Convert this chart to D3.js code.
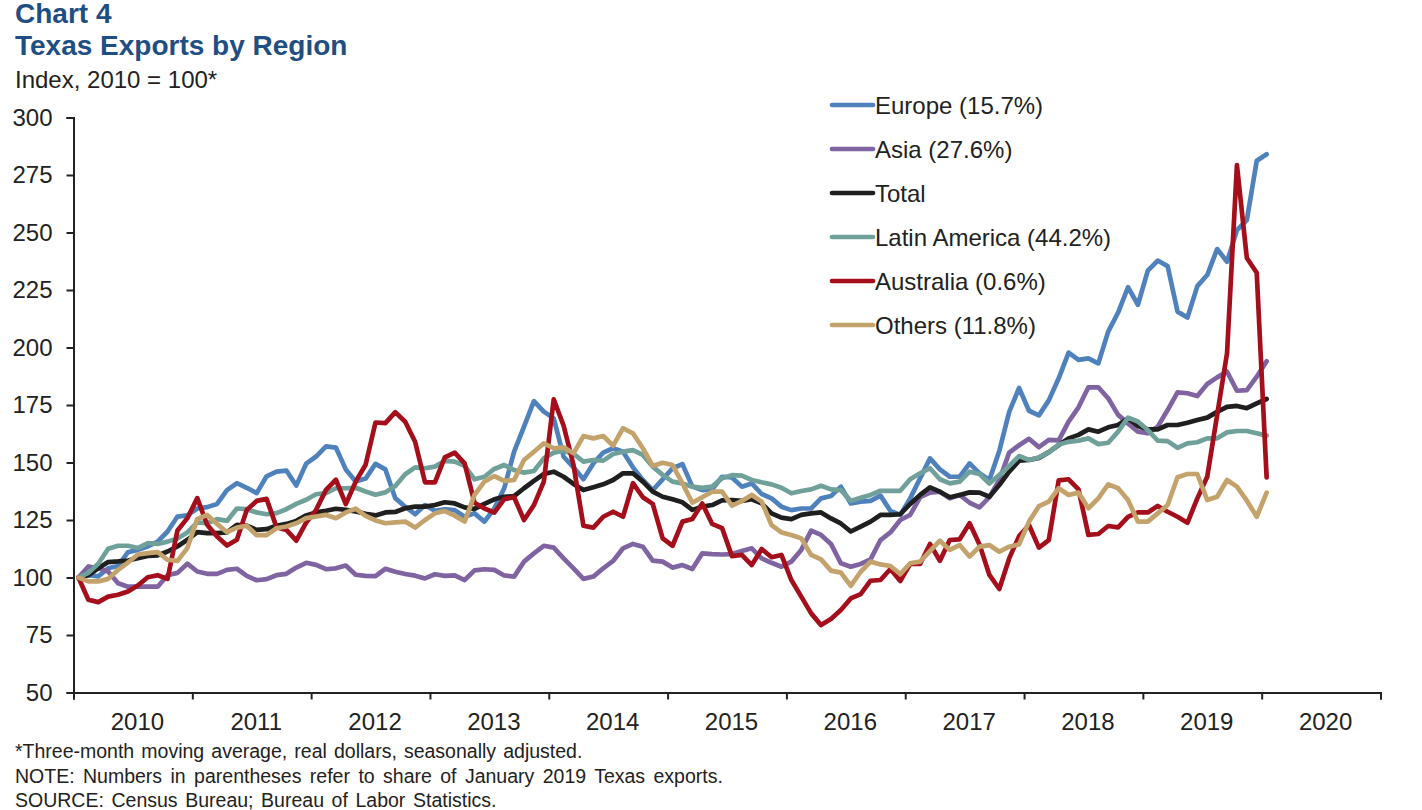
<!DOCTYPE html>
<html>
<head>
<meta charset="utf-8">
<script src="https://cdnjs.cloudflare.com/ajax/libs/d3/7.8.5/d3.min.js"></script>
<style>
    body { margin: 0; background: #fff; }
    text { font-family: "Liberation Sans", Arial, sans-serif; fill: #222; }
</style>
</head>
<body>
<div id="chart"></div>
<script>
    // monthly index values, Jan 2010 to Jan 2020
    var europe = [
        100, 101, 100.5, 104, 105, 111, 112, 113.5, 115.6, 120,
        126.5, 127, 130, 130.6, 132, 138, 141, 139, 136.7, 144,
        146, 146.5, 140, 149.5, 152.6, 157, 156.5, 147, 141.7, 143,
        149.4, 147, 134.5, 130.8, 127.5, 131.5, 129, 129.6, 129.3, 126.4,
        127.9, 124.3, 130, 138.8, 154.7, 165.6, 176.7, 172.1, 169.2, 152.5,
        147.9, 142.7, 149.6, 154.3, 156.2, 154.7, 147.9, 142.4, 138, 142.7,
        147.5, 149.3, 139.5, 138, 138.3, 143.8, 143.5, 139.5, 140.9, 136.3,
        134.4, 130.8, 129.3, 130, 130, 134.4, 135.4, 139.5, 132.2, 133,
        133.3, 135.6, 129, 127.2, 134.4, 143.1, 151.8, 147, 143.8, 143.8,
        149.6, 145.3, 142.4, 155, 172, 182.4, 172.5, 170.5, 177, 186.6,
        197.8, 194.6, 195.3, 193.1, 206.9, 215.2, 226.2, 218.6, 233.4, 237.8,
        235.4, 215.6, 213, 226.7, 231.5, 242.8, 237.3, 251, 255.4, 281.2,
        284
    ];
    var asia = [
        100, 104.8, 104, 102.6, 97.5, 96, 96, 96, 96, 101,
        102, 106, 102.6, 101.6, 101.6, 103.3, 103.8, 100.7, 98.8, 99.3,
        101, 101.6, 104.3, 106.4, 105.5, 103.6, 104, 105.2, 101.2, 100.7,
        100.6, 103.8, 102.5, 101.5, 100.8, 99.6, 101.4, 100.7, 100.9, 98.9,
        103.1, 103.6, 103.3, 100.9, 100.4, 106.9, 110.5, 113.8, 113, 108.3,
        104, 99.4, 100.4, 104, 107.2, 112.7, 114.6, 113.4, 107.3, 106.9,
        104.3, 105.4, 103.7, 110.5, 110.2, 110, 110.2, 111.5, 112.7, 108.3,
        106.4, 104.7, 106.9, 112, 120.4, 118.5, 114.6, 106.2, 104.7, 105.9,
        107.9, 116.3, 119.6, 125, 127.2, 134.9, 136.9, 137.3, 134.4, 135.9,
        132.5, 130.5, 134.9, 142.4, 154.3, 157.5, 160.3, 156.7, 159.8, 159.6,
        167.8, 174, 182.7, 182.7, 177.9, 170.7, 167, 163.4, 162.7, 165.6,
        172.8, 180.5, 180.1, 178.9, 184.1, 187, 189.5, 181.2, 181.5, 187.3,
        194
    ];
    var total = [
        100, 101, 104, 106.7, 107, 107.4, 108.4, 109.4, 109.6, 111.3,
        113.5, 116.4, 119.7, 119.3, 119.3, 119.6, 122.9, 122.5, 120.7, 121,
        122.5, 123.3, 124.6, 127, 128.3, 129, 129.9, 129.4, 128.7, 127.7,
        127, 128.3, 128.5, 130.1, 130.8, 130.8, 131.5, 132.7, 132.2, 130.5,
        129.8, 132, 134, 135.1, 135.4, 138.8, 142, 145, 146, 143.8,
        140.7, 138, 139.2, 140.5, 142.4, 145.3, 145.3, 141.7, 137.3, 135.1,
        134, 132.7, 129.4, 130.8, 131.5, 133.5, 133.7, 133.3, 134, 132.2,
        127.9, 126, 125.4, 127.2, 127.9, 128.3, 125.7, 123.5, 120, 122.1,
        124.3, 127.2, 127.2, 127.5, 132, 135.9, 139.2, 137.3, 134.9, 135.9,
        137, 136.9, 135.1, 140.2, 146, 150.8, 151.1, 152, 154.5, 157.6,
        160.5, 162, 164.4, 163.4, 165.3, 166.3, 169.2, 165.9, 164.4, 164.4,
        166.3, 166.3, 167.3, 168.5, 169.5, 172, 174.2, 174.6, 173.6, 175.7,
        177.6
    ];
    var latinAmerica = [
        100, 102, 106, 112.5, 113.8, 113.8, 112.8, 115, 114.6, 115.6,
        117, 119.6, 124, 123.6, 125.4, 124.6, 130, 129.7, 128.3, 127.5,
        128, 129.7, 132, 133.8, 136.2, 136.7, 138.8, 138.8, 139, 137.4,
        136, 137, 139.8, 144.9, 147.9, 147.5, 148.2, 150.7, 150.4, 148.6,
        142.7, 143.8, 147.2, 148.9, 146.7, 145.6, 146.3, 151.8, 154.3, 155.1,
        153.7, 150.4, 151.1, 150.8, 153.7, 154.7, 155.4, 153.3, 148.2, 144.6,
        141.7, 140.9, 139.5, 139, 139.5, 143.2, 144.5, 144.3, 142.4, 141.4,
        140.5, 139, 136.6, 137.6, 138.3, 139.9, 138.3, 138, 133.3, 134.7,
        135.9, 137.7, 137.7, 137.7, 142.7, 145.3, 147.5, 142.7, 140.9, 141.7,
        146, 145, 140.9, 144.6, 148.5, 152.8, 151.1, 152.2, 154.4, 157.8,
        159, 159.5, 160.5, 158, 158.6, 163.4, 169.5, 167.8, 164.1, 159.5,
        159.3, 156.4, 158.3, 158.8, 160.5, 160.5, 163.1, 163.7, 163.7, 162.7,
        161.7
    ];
    var australia = [
        100, 90.3, 89.3, 91.7, 92.5, 93.9, 96.5, 100.1, 101, 99.4,
        120.4, 125.8, 134.5, 122.9, 117.8, 113.9, 116.4, 129.4, 133.3, 134.2,
        121.9, 120.7, 116, 123.9, 129.4, 138.1, 142.5, 131.9, 141.7, 149,
        167.4, 167.1, 171.9, 167.7, 159, 141.4, 141.4, 152.2, 154.3, 149.6,
        132.5, 130, 128.2, 134.1, 134.9, 125, 131.5, 141.7, 177.5, 166,
        148.9, 122.5, 121.7, 126.4, 128.6, 126.4, 141, 134.9, 132, 117,
        113.8, 124.3, 125.4, 132.2, 123.3, 121.5, 109.3, 109.8, 105.4, 112.4,
        108.8, 109.8, 98.9, 91.7, 84.4, 79.3, 82, 85.9, 90.9, 92.8,
        98.6, 98.9, 103.7, 98.5, 105.9, 105.9, 114.6, 107.3, 116.3, 116.6,
        123.6, 114.4, 101.1, 95, 108.3, 118, 122.8, 113, 116.3, 142.2,
        142.7, 138.3, 118.5, 118.9, 122.4, 121.8, 126.4, 128.3, 128.3, 131.1,
        128.6, 126.4, 123.8, 134.4, 143.8, 170.6, 197.5, 279.3, 238.9, 232.5,
        143.5
    ];
    var others = [
        100, 98.3, 98.3, 99.4, 103.3, 106.5, 110, 110.6, 111, 107.7,
        107.2, 112.8, 125.4, 127.2, 123.3, 119.7, 121.7, 122.5, 118.4, 118.4,
        121.4, 122.2, 123.6, 125.8, 126.5, 127.2, 125.8, 128.3, 129.9, 126.8,
        124.8, 123.6, 124, 124.3, 121.7, 125, 127.9, 128.9, 126.9, 124.3,
        135.9, 141.7, 144.1, 142, 142.4, 151.1, 154.7, 158.3, 156.2, 156.6,
        154, 161.5, 160.5, 161.5, 157.3, 164.9, 162.7, 156.2, 148.5, 149.9,
        148.9, 140.9, 132.5, 134.9, 137.3, 137.3, 131.2, 133.3, 135.9, 133,
        122.8, 119.6, 118.5, 117, 109.8, 107.9, 103, 102.1, 96.4, 102.5,
        106.9, 105.7, 105, 101.5, 106.2, 106.9, 111.5, 116, 112, 114.1,
        109.1, 113.4, 114.1, 111.2, 113.4, 114.4, 124.3, 131, 133, 138.8,
        135.9, 136.9, 130.1, 134.4, 140.5, 138.8, 133.7, 124.3, 124.3, 127.9,
        131.5, 143.6, 145, 145, 133.7, 135.1, 142.4, 139.5, 133.4, 126.4,
        136.9
    ];

    var years = [2010, 2011, 2012, 2013, 2014, 2015, 2016, 2017, 2018, 2019, 2020];
    var yTicks = [50, 75, 100, 125, 150, 175, 200, 225, 250, 275, 300];

    var seriesNames = ["Europe (15.7%)", "Asia (27.6%)", "Total", "Latin America (44.2%)", "Australia (0.6%)", "Others (11.8%)"];
    var seriesValues = [europe, asia, total, latinAmerica, australia, others];
    var seriesColors = ["#4f81bd", "#8064a2", "#1f1f1f", "#70a09a", "#a50f1b", "#c4a26c"];

    var notes = [
        "*Three-month moving average, real dollars, seasonally adjusted.",
        "NOTE: Numbers in parentheses refer to share of January 2019 Texas exports.",
        "SOURCE: Census Bureau; Bureau of Labor Statistics."
    ];
    // the footnotes in the original are stretched a bit between words
    var noteWordSpacing = [1.7, 3, 2.2];

    var svgWidth = 1422;
    var svgHeight = 810;

    var svg = d3.select("#chart")
        .append("svg")
        .attr("width", svgWidth)
        .attr("height", svgHeight)
        .style("display", "block");

    // x scale is in months from Jan 2010, each point sits mid month
    var xScale = d3.scaleLinear()
        .domain([0, years.length * 12])
        .range([73.5, 1380.5]);

    var yScale = d3.scaleLinear()
        .domain([50, 300])
        .range([692.5, 117.5]);

    // titles
    svg.append("text").attr("x", 15).attr("y", 23)
        .style("font-size", "28px").style("font-weight", "bold").style("fill", "#1f4e82")
        .text("Chart 4");
    svg.append("text").attr("x", 15).attr("y", 55)
        .style("font-size", "28px").style("font-weight", "bold").style("fill", "#1f4e82")
        .text("Texas Exports by Region");
    svg.append("text").attr("x", 15).attr("y", 88)
        .style("font-size", "24px")
        .text("Index, 2010 = 100*");

    // y axis
    var leftAxis = d3.axisLeft(yScale)
        .tickValues(yTicks)
        .tickSize(7)
        .tickPadding(14);

    var yAxis = svg.append("g")
        .attr("transform", "translate(73.5,0)")
        .call(leftAxis);
    yAxis.selectAll("text").style("font-size", "24px");

    // x axis, ticks on year boundaries and labels in the middle of the year
    var bottomAxis = d3.axisBottom(xScale)
        .tickValues(years.map((d, i) => i * 12).concat(years.length * 12))
        .tickSize(7)
        .tickFormat("");

    var xAxis = svg.append("g")
        .attr("transform", "translate(0,692.5)")
        .call(bottomAxis);

    svg.selectAll(".domain, .tick line")
        .attr("stroke", "#222")
        .attr("stroke-width", 2);

    svg.append("g").selectAll("text")
        .data(years)
        .enter()
        .append("text")
        .attr("x", (d, i) => xScale(i * 12 + 6) + 4.5)
        .attr("y", 730)
        .attr("text-anchor", "middle")
        .style("font-size", "24px")
        .text(d => d);

    // lines
    var line = d3.line()
        .x((d, i) => xScale(i + 0.5))
        .y(d => yScale(d));

    svg.append("g").selectAll("path")
        .data(seriesValues)
        .enter()
        .append("path")
        .attr("d", line)
        .attr("fill", "none")
        .attr("stroke", (d, i) => seriesColors[i])
        .attr("stroke-width", 4.7)
        .attr("stroke-linejoin", "round")
        .attr("stroke-linecap", "round");

    // legend
    var legend = svg.append("g").selectAll("g")
        .data(seriesNames)
        .enter()
        .append("g")
        .attr("transform", (d, i) => `translate(832,${105 + i * 44})`);

    legend.append("line")
        .attr("x1", 0)
        .attr("x2", 41)
        .attr("stroke", (d, i) => seriesColors[i])
        .attr("stroke-width", 4.7)
        .attr("stroke-linecap", "round");

    legend.append("text")
        .attr("x", 43)
        .attr("y", 9)
        .style("font-size", "24px")
        .text(d => d);

    // footnotes
    svg.append("g").selectAll("text")
        .data(notes)
        .enter()
        .append("text")
        .attr("x", 15)
        .attr("y", (d, i) => 758 + i * 24.5)
        .style("font-size", "19.5px")
        .style("word-spacing", (d, i) => noteWordSpacing[i] + "px")
        .text(d => d);
</script>
</body>
</html>
